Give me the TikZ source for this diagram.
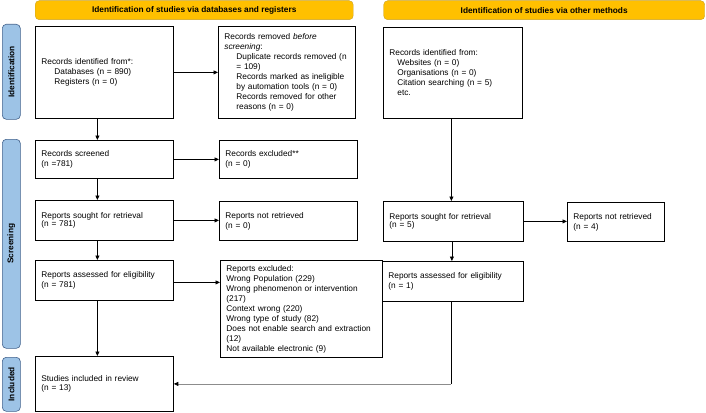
\documentclass[tikz,border=0pt]{standalone}
\usepackage{fontspec}
\setmainfont{Liberation Sans}
\usetikzlibrary{arrows.meta,calc}
\definecolor{hdrfill}{HTML}{FFC000}
\definecolor{hdrdraw}{HTML}{C9A227}
\definecolor{sidefill}{HTML}{9DC3E6}
\definecolor{sidedraw}{HTML}{41618C}
\tikzset{
  box/.style={draw=black, line width=0.8pt, anchor=north west, inner xsep=6pt, inner ysep=0pt,
    align=left, font=\fontsize{8.3}{10}\selectfont},
  hdr/.style={draw=hdrdraw, fill=hdrfill, rounded corners=4pt, anchor=north west, inner sep=0pt,
    font=\bfseries\fontsize{8.3}{10}\selectfont},
  side/.style={draw=sidedraw, fill=sidefill, rounded corners=4pt, anchor=north west, inner sep=0pt,
    line width=0.6pt},
  sidetxt/.style={rotate=90, font=\bfseries\fontsize{8.3}{10}\selectfont},
  arr/.style={line width=0.8pt, -{Triangle[length=4.5pt,width=4pt,color=black]}},
  ln/.style={line width=0.8pt}
}
\newcommand{\bx}[5]{% name, x, y, w, h
  \node[box, minimum width=#4pt, minimum height=#5pt, text width=#4pt-12pt] (#1) at (#2,#3)}
\begin{document}
\begin{tikzpicture}[x=1pt,y=-1pt]
\useasboundingbox (0,0) rectangle (706,412);
% headers
\node[hdr, minimum width=318pt, minimum height=19pt] (h1) at (35,0.5) {Identification of studies via databases and registers};
\node[hdr, minimum width=321pt, minimum height=19pt] (h2) at (383.5,0.5) {Identification of studies via other methods};
% side labels
\node[side, minimum width=18pt, minimum height=95pt] (s1) at (2,24) {};
\node[sidetxt] (s1t) at (s1.center) {Identification};
\node[side, minimum width=18pt, minimum height=209pt] (s2) at (2,139) {};
\node[sidetxt] (s2t) at (s2.center) {Screening};
\node[side, minimum width=18pt, minimum height=54pt] (s3) at (2,357) {};
\node[sidetxt] (s3t) at (s3.center) {Included};
% left column
\bx{rid}{35}{26}{138}{92}{Records identified from*:\\\hspace*{13pt}Databases (n = 890)\\\hspace*{13pt}Registers (n = 0)};
\bx{rrem}{218}{26}{137}{92}{Records removed \emph{before}\\\emph{screening}:\\\hspace*{12pt}Duplicate records removed (n\\\hspace*{12pt}= 109)\\\hspace*{12pt}Records marked as ineligible\\\hspace*{12pt}by automation tools (n = 0)\\\hspace*{12pt}Records removed for other\\\hspace*{12pt}reasons (n = 0)};
\bx{rs}{35}{140}{138}{38}{\baselineskip=9pt Records screened\\(n =781)};
\bx{rex}{219}{140}{138}{38}{\baselineskip=9pt Records excluded**\\(n = 0)};
\bx{sought}{35}{200}{138}{40}{\baselineskip=8.5pt Reports sought for retrieval\\(n = 781)\\[3pt]};
\bx{nret}{219}{201}{138}{39}{\baselineskip=8.5pt Reports not retrieved\\(n = 0)};
\bx{ass}{35}{260}{138}{40}{\baselineskip=8.5pt Reports assessed for eligibility\\(n = 781)};
\bx{excl}{220}{260}{162}{97}{Reports excluded:\\Wrong Population (229)\\Wrong phenomenon or intervention\\(217)\\Context wrong (220)\\Wrong type of study (82)\\Does not enable search and extraction\\(12)\\Not available electronic (9)};
\bx{incl}{35}{356}{138}{55}{\baselineskip=8.5pt Studies included in review\\(n = 13)\\[10pt]};
% right column
\bx{orid}{383}{27}{139}{91}{Records identified from:\\\hspace*{8pt}Websites (n = 0)\\\hspace*{8pt}Organisations (n = 0)\\\hspace*{8pt}Citation searching (n = 5)\\\hspace*{8pt}etc.};
\bx{osought}{383}{201}{140}{40}{\baselineskip=8.5pt Reports sought for retrieval\\(n = 5)\\[3pt]};
\bx{onret}{567}{202}{97}{39}{\baselineskip=8.5pt Reports not retrieved\\(n = 4)};
\bx{oass}{382}{261}{141}{40}{\baselineskip=8.5pt Reports assessed for eligibility\\(n = 1)};
% connectors
\draw[arr] (rid.east) -- (rid.east -| rrem.west);
\draw[arr] ([xshift=-7pt]rid.south) -- ([xshift=-7pt]rs.north);
\draw[arr] (rs.east) -- (rs.east -| rex.west);
\draw[arr] ([xshift=-7pt]rs.south) -- ([xshift=-7pt]sought.north);
\draw[arr] (sought.east) -- (sought.east -| nret.west);
\draw[arr] ([xshift=-7pt]sought.south) -- ([xshift=-7pt]ass.north);
\draw[arr] ([yshift=-2pt]ass.east) -- ([yshift=-2pt]ass.east -| excl.west);
\draw[arr] ([xshift=-7pt]ass.south) -- ([xshift=-7pt]incl.north);
\draw[arr] ([xshift=-1.5pt]orid.south) -- ([xshift=-1.5pt]orid.south |- osought.north);
\draw[arr] (osought.east) -- (osought.east -| onret.west);
\draw[arr] ([xshift=-1.5pt]osought.south) -- ([xshift=-1.5pt]osought.south |- oass.north);
\coordinate (corner) at ([xshift=-1.5pt]oass.south |- incl.east);
\draw[ln] ([xshift=-1.5pt]oass.south) -- (corner);
\draw[arr, draw=black!45] (corner) -- (incl.east);
\end{tikzpicture}
\end{document}
